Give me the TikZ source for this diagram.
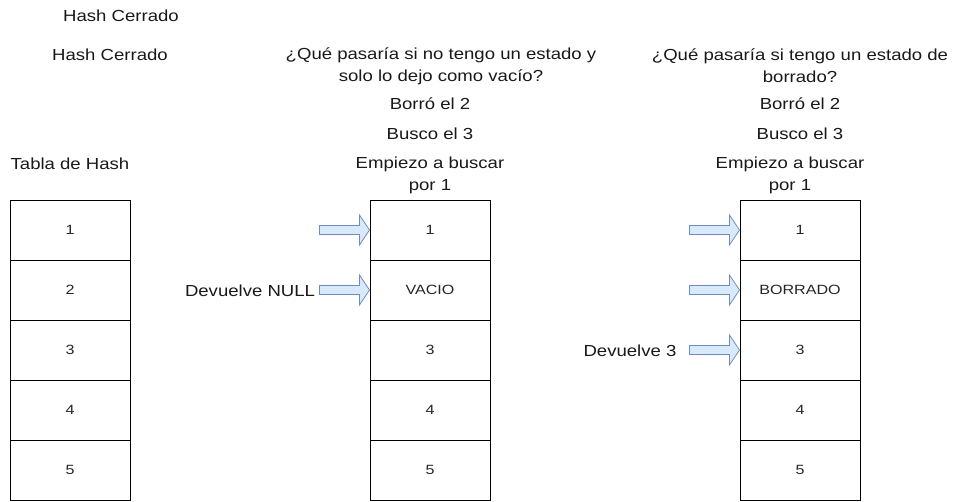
\documentclass[tikz,border=0pt]{standalone}
\usepackage{fontspec}
\setmainfont{Liberation Sans}
\newfontfamily\labfont[FakeStretch=1.16]{Liberation Sans}
\newfontfamily\cellfont[FakeStretch=1.2]{Liberation Sans}
\begin{document}
\begin{tikzpicture}[x=1pt,y=-1pt,
  cellbox/.style={draw=black,line width=1pt,minimum width=120pt,minimum height=60pt,inner sep=0pt,
    font=\cellfont\fontsize{13.4pt}{16pt}\selectfont,text=black!85},
  lab/.style={font=\labfont\fontsize{16pt}{22pt}\selectfont,text=black!90,align=center,inner sep=0pt},
  barrow/.style={draw={rgb,255:red,108;green,142;blue,191},fill={rgb,255:red,218;green,232;blue,252},line width=0.8pt,line join=miter}]
\useasboundingbox (0,0) rectangle (960,501);
% tables
\foreach \c/\x in {a/70,b/430,c/800}{
  \foreach \i in {1,...,5}{
    \coordinate (\c\i c) at (\x,{170+60*\i});
  }
}
\node[cellbox] (a1) at (a1c) {1};
\node[cellbox] (a2) at (a2c) {2};
\node[cellbox] (a3) at (a3c) {3};
\node[cellbox] (a4) at (a4c) {4};
\node[cellbox] (a5) at (a5c) {5};
\node[cellbox] (b1) at (b1c) {1};
\node[cellbox] (b2) at (b2c) {VACIO};
\node[cellbox] (b3) at (b3c) {3};
\node[cellbox] (b4) at (b4c) {4};
\node[cellbox] (b5) at (b5c) {5};
\node[cellbox] (c1) at (c1c) {1};
\node[cellbox] (c2) at (c2c) {BORRADO};
\node[cellbox] (c3) at (c3c) {3};
\node[cellbox] (c4) at (c4c) {4};
\node[cellbox] (c5) at (c5c) {5};
% labels
\node[lab] (t1) at (121,16) {Hash Cerrado};
\node[lab] (t2) at (110,55) {Hash Cerrado};
\node[lab] (t3) at (70,164) {Tabla de Hash};
\node[lab] (q1) at (441,66) {¿Qué pasaría si no tengo un estado y\\solo lo dejo como vacío?};
\node[lab] (b2l) at (430,104) {Borró el 2};
\node[lab] (b3l) at (430,134) {Busco el 3};
\node[lab] (e1) at (430,175) {Empiezo a buscar\\por 1};
\node[lab] (q2) at (800,66) {¿Qué pasaría si tengo un estado de\\borrado?};
\node[lab] (c2l) at (800,104) {Borró el 2};
\node[lab] (c3l) at (800,134) {Busco el 3};
\node[lab] (e2) at (790,175) {Empiezo a buscar\\por 1};
\node[lab] (dn) at (250,291) {Devuelve NULL};
\node[lab] (d3) at (630,351) {Devuelve 3};
% block arrows
\foreach \t in {b1,b2,c1,c2,c3}{
  \draw[barrow,shift={(\t.west)}] (-50,-4.5) -- (-10,-4.5) -- (-10,-15) -- (0,0) -- (-10,15) -- (-10,4.5) -- (-50,4.5) -- cycle;
}
\end{tikzpicture}
\end{document}
